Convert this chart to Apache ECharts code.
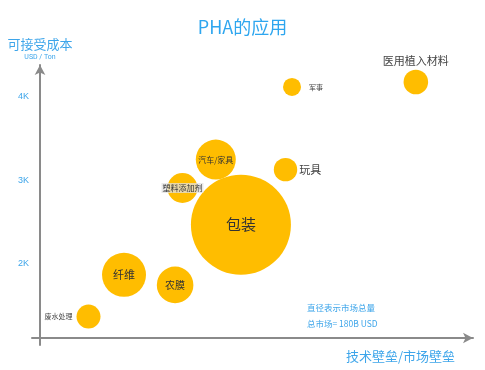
<!DOCTYPE html>
<html>
<head>
<meta charset="utf-8">
<script src="https://cdn.jsdelivr.net/npm/echarts@6/dist/echarts.min.js"></script>
<style>html,body{margin:0;padding:0;background:#fff;}#c{width:485px;height:370px;}</style>
</head>
<body>
<div id="c"></div>
<script>
// Data
const categories = ['医用植入材料', '军事', '玩具', '汽车/家具', '塑料添加剂', '包装', '纤维', '农膜', '废水处理'];
const barrier = [86.8, 58.2, 56.7, 40.6, 32.9, 46.4, 19.4, 31.2, 11.2];   // 技术壁垒/市场壁垒 (relative)
const cost = [4.18, 4.12, 3.13, 3.25, 2.91, 2.47, 1.87, 1.75, 1.37];      // K USD / Ton
const marketSize = [24.6, 18, 23.4, 40, 30, 100, 44, 36.6, 24];         // diameter ~ market size
const yTickLabels = [2, 3, 4];

// Label styles per bubble (presentation only)
const labelStyles = {
  '医用植入材料': { position: 'top', distance: 3, fontSize: 11, color: '#444' },
  '军事': { position: 'right', distance: 8, fontSize: 7, color: '#444' },
  '玩具': { position: 'right', distance: 2, fontSize: 11, color: '#444' },
  '汽车/家具': { position: 'inside', fontSize: 8, color: '#333' },
  '塑料添加剂': { position: 'inside', fontSize: 8, color: '#333', backgroundColor: 'rgba(225,225,225,0.75)', padding: [1, 1] },
  '包装': { position: 'inside', fontSize: 15, color: '#333' },
  '纤维': { position: 'inside', fontSize: 11, color: '#333' },
  '农膜': { position: 'inside', fontSize: 10, color: '#333' },
  '废水处理': { position: 'left', distance: 4, fontSize: 7, color: '#444' }
};

const blue = '#3da5ea';
const seriesData = categories.map((name, i) => ({
  name: name,
  value: [barrier[i], cost[i], marketSize[i]],
  label: Object.assign({ show: true, formatter: '{b}', fontFamily: 'Noto Sans CJK SC' }, labelStyles[name])
}));

const chart = echarts.init(document.getElementById('c'), null, { renderer: 'canvas' });
chart.setOption({
  backgroundColor: '#fff',
  animation: false,
  title: {
    text: 'PHA的应用',
    left: 'center',
    top: 13,
    textStyle: { color: '#2ea6ef', fontSize: 18, fontWeight: 'normal', fontFamily: 'Noto Sans CJK SC' }
  },
  graphic: [
    {
      type: 'text',
      left: 307,
      top: 300,
      style: {
        text: '直径表示市场总量\n总市场= 180B USD',
        fill: blue,
        fontSize: 8.5,
        lineHeight: 16,
        fontFamily: 'Noto Sans CJK SC'
      }
    }
  ],
  grid: { left: 32, right: 12, top: 65, bottom: 25 },
  xAxis: {
    type: 'value',
    min: -1.85,
    max: 100,
    offset: -7,
    splitLine: { show: false },
    axisTick: { show: false },
    axisLabel: { show: false },
    axisLine: {
      show: true,
      onZero: false,
      symbol: ['none', 'arrow'],
      symbolSize: [8, 10],
      lineStyle: { color: '#8a8a8a', width: 2 }
    },
    name: '技术壁垒/市场壁垒',
    nameLocation: 'end',
    nameGap: -18,
    nameTextStyle: {
      color: blue, fontSize: 13, align: 'right', verticalAlign: 'top',
      padding: [12, 0, 0, 0], fontFamily: 'Noto Sans CJK SC'
    }
  },
  yAxis: {
    type: 'value',
    min: 1.114 - 7 / 83.5,
    max: 4.383,
    splitLine: { show: false },
    axisTick: { show: false },
    axisLabel: {
      customValues: yTickLabels,
      formatter: v => Math.round(v) + 'K',
      color: blue,
      fontSize: 9,
      margin: 3
    },
    axisLine: {
      show: true,
      onZero: true,
      symbol: ['none', 'arrow'],
      symbolSize: [8, 10],
      lineStyle: { color: '#8a8a8a', width: 2 }
    },
    name: '{a|可接受成本}\n{b|USD / Ton}',
    nameLocation: 'end',
    nameGap: 3,
    nameTextStyle: {
      align: 'center',
      rich: {
        a: { color: blue, fontSize: 13, lineHeight: 15, fontFamily: 'Noto Sans CJK SC' },
        b: { color: blue, fontSize: 7, lineHeight: 10, fontFamily: 'Roboto' }
      }
    }
  },
  series: [{
    type: 'scatter',
    data: seriesData,
    symbolSize: d => d[2],
    itemStyle: { color: '#ffbd00', opacity: 1 },
    emphasis: { disabled: true }
  }]
});
</script>
</body>
</html>
